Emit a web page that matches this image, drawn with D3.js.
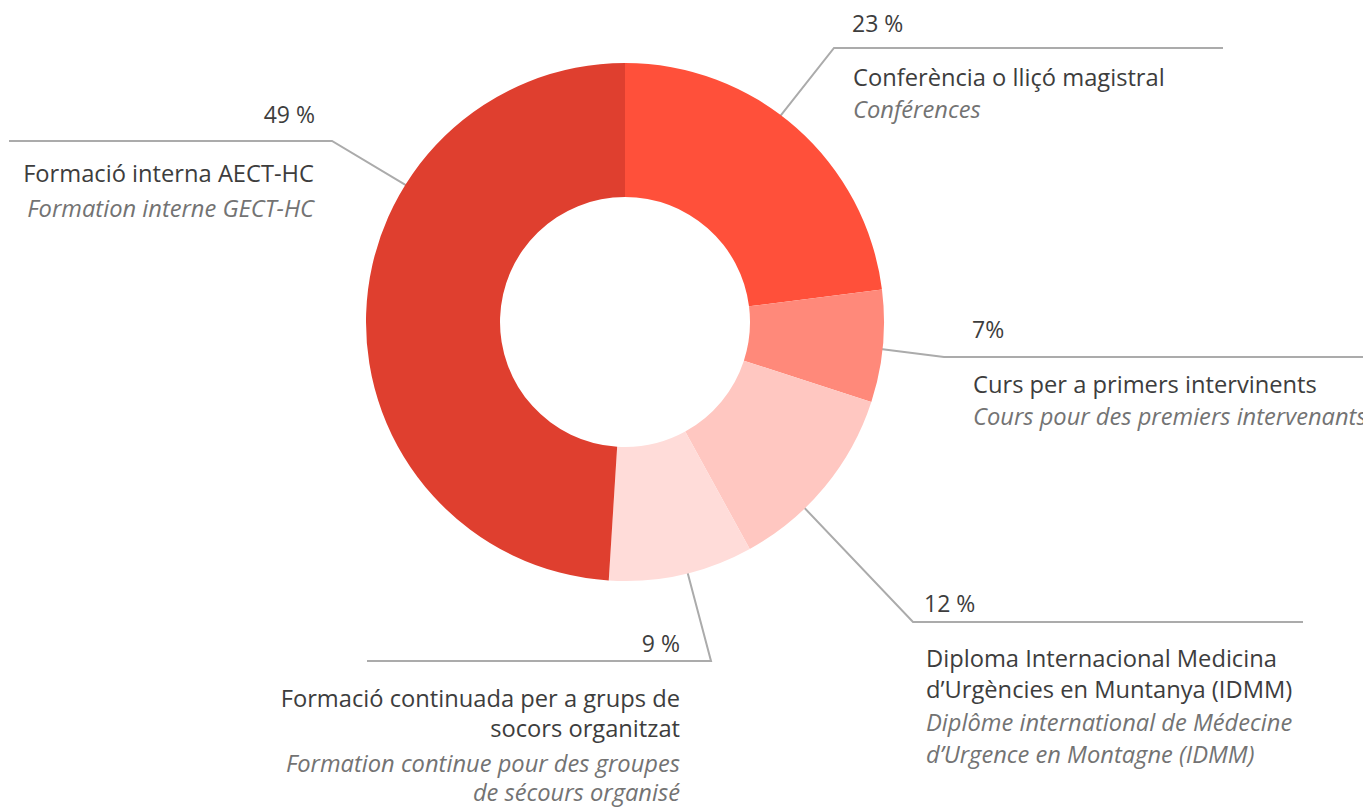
<!DOCTYPE html>
<html>
<head>
<meta charset="utf-8">
<style>
  html, body { margin: 0; padding: 0; background: #fff; }
  #chart { width: 1363px; height: 807px; }
  text { font-family: "Open Sans", "Noto Sans", sans-serif; }
</style>
</head>
<body>
<div id="chart"></div>

<script src="https://cdn.jsdelivr.net/npm/d3@7"></script>
<script>
// values, clockwise from 12 o'clock
var categories = [
  ["Conferència o lliçó magistral"],
  ["Curs per a primers intervinents"],
  ["Diploma Internacional Medicina", "d’Urgències en Muntanya (IDMM)"],
  ["Formació continuada per a grups de", "socors organitzat"],
  ["Formació interna AECT-HC"]
];
var frenchNames = [
  ["Conférences"],
  ["Cours pour des premiers intervenants"],
  ["Diplôme international de Médecine", "d’Urgence en Montagne (IDMM)"],
  ["Formation continue pour des groupes", "de sécours organisé"],
  ["Formation interne GECT-HC"]
];
var values = [23, 7, 12, 9, 49];
var valueLabels = ["23 %", "7%", "12 %", "9 %", "49 %"];
var colours = ["#ff503a", "#ff897a", "#ffc7c1", "#ffdcd9", "#df3f2f"];

// label placement (angle in degrees where the leader leaves the ring)
var layout = [
  { angle: 37,  elbow: [834, 48],  endX: 1223, anchor: "start", pctX: 852, pctY: 32,  textX: 853, lineY: [86],       frY: [118] },
  { angle: 96,  elbow: [944, 357], endX: 1363, anchor: "start", pctX: 972, pctY: 338, textX: 973, lineY: [393],      frY: [425] },
  { angle: 136, elbow: [913, 622], endX: 1303, anchor: "start", pctX: 924, pctY: 612, textX: 926, lineY: [667, 698], frY: [731, 763] },
  { angle: 166, elbow: [711, 661], endX: 367,  anchor: "end",   pctX: 680, pctY: 652, textX: 680, lineY: [707, 737], frY: [772, 801] },
  { angle: 302, elbow: [332, 141], endX: 9,    anchor: "end",   pctX: 315, pctY: 123, textX: 314, lineY: [182],      frY: [217] }
];

var width = 1363, height = 807;
var cx = 625, cy = 322;
var outerR = 259, innerR = 125;

var svg = d3.select("#chart").append("svg")
    .attr("width", width)
    .attr("height", height);

var pie = d3.pie().sort(null).value(function(d) { return d; });
var arc = d3.arc().innerRadius(innerR).outerRadius(outerR);
var arcs = pie(values);

// leader lines (behind the ring)
var leaders = svg.append("g").attr("class", "leaders");
layout.forEach(function(l) {
  var p = d3.pointRadial(l.angle * Math.PI / 180, outerR - 6);
  leaders.append("polyline")
    .attr("points", [[cx + p[0], cy + p[1]], l.elbow, [l.endX, l.elbow[1]]].join(" "))
    .attr("fill", "none")
    .attr("stroke", "#ababab")
    .attr("stroke-width", 2);
});

svg.append("g")
    .attr("transform", "translate(" + cx + "," + cy + ")")
  .selectAll("path")
  .data(arcs)
  .join("path")
    .attr("d", arc)
    .attr("fill", function(d, i) { return colours[i]; });

var labels = svg.append("g").attr("class", "labels");
layout.forEach(function(l, i) {
  labels.append("text")
    .attr("x", l.pctX).attr("y", l.pctY)
    .attr("text-anchor", l.anchor)
    .attr("font-size", 23)
    .attr("fill", "#3d3d3d")
    .text(valueLabels[i]);

  categories[i].forEach(function(t, j) {
    labels.append("text")
      .attr("x", l.textX).attr("y", l.lineY[j])
      .attr("text-anchor", l.anchor)
      .attr("font-size", 23.7)
      .attr("fill", "#3d3d3d")
      .text(t);
  });

  frenchNames[i].forEach(function(t, j) {
    labels.append("text")
      .attr("x", l.textX).attr("y", l.frY[j])
      .attr("text-anchor", l.anchor)
      .attr("font-size", 23.7)
      .attr("font-style", "italic")
      .attr("fill", "#737373")
      .text(t);
  });
});
</script>
</body>
</html>
